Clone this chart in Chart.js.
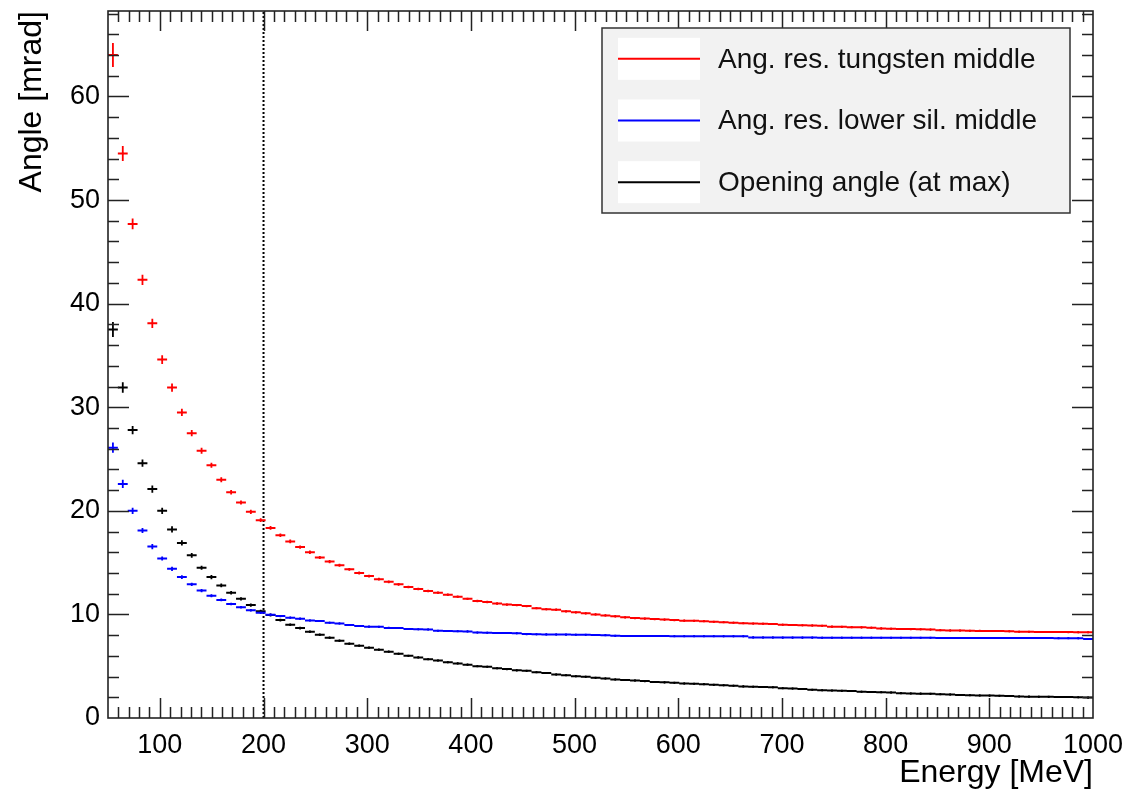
<!DOCTYPE html>
<html>
<head>
<meta charset="utf-8">
<script src="https://cdn.jsdelivr.net/npm/chart.js@4.4.1/dist/chart.umd.min.js"></script>
<style>
  html, body { margin: 0; padding: 0; background: #fff; }
  #wrap { width: 1135px; height: 792px; }
</style>
</head>
<body>
<div id="wrap"><canvas id="angleChart" width="1135" height="792"></canvas></div>
<script>
// histogram binning: 100 bins between 50 and 1000 MeV
const energyMin = 50;
const energyMax = 1000;
const binCount = 100;

const xTickValues = [100, 200, 300, 400, 500, 600, 700, 800, 900, 1000];
const yTickValues = [0, 10, 20, 30, 40, 50, 60];
const yMax = 68.25;
const cutEnergy = 200;

const seriesLabels = ['Ang. res. tungsten middle', 'Ang. res. lower sil. middle', 'Opening angle (at max)'];
const seriesColors = ['#ff0000', '#0000ff', '#000000'];

// values per bin [mrad]
const tungstenRes = [
    64.0, 54.5, 47.7, 42.3, 38.1, 34.6, 31.9, 29.5, 27.5, 25.8,
    24.4, 23.0, 21.8, 20.8, 19.9, 19.1, 18.35, 17.65, 17.05, 16.5,
    16.0, 15.5, 15.1, 14.75, 14.35, 14.0, 13.7, 13.4, 13.15, 12.9,
    12.65, 12.45, 12.25, 12.1, 11.9, 11.7, 11.5, 11.3, 11.2, 11.05,
    10.95, 10.9, 10.8, 10.6, 10.5, 10.45, 10.3, 10.2, 10.1, 10.0,
    9.9, 9.82, 9.72, 9.65, 9.6, 9.55, 9.5, 9.45, 9.4, 9.38,
    9.35, 9.28, 9.25, 9.2, 9.15, 9.12, 9.1, 9.08, 9.0, 8.97,
    8.95, 8.93, 8.9, 8.82, 8.8, 8.77, 8.75, 8.72, 8.65, 8.62,
    8.6, 8.58, 8.56, 8.54, 8.48, 8.45, 8.44, 8.42, 8.41, 8.4,
    8.39, 8.37, 8.33, 8.32, 8.31, 8.3, 8.3, 8.29, 8.28, 8.27
];
const tungstenErr = [
    1.15, 0.72, 0.53, 0.5, 0.45, 0.42, 0.4, 0.35, 0.3, 0.3,
    0.25, 0.25, 0.22, 0.2, 0.2, 0.18, 0.18, 0.17, 0.17, 0.16,
    0.16, 0.15, 0.15, 0.15, 0.14, 0.14, 0.14, 0.13, 0.13, 0.13,
    0.12, 0.12, 0.12, 0.12, 0.12, 0.12, 0.12, 0.12, 0.12, 0.12,
    0.11, 0.11, 0.11, 0.11, 0.11, 0.11, 0.11, 0.11, 0.11, 0.11,
    0.11, 0.11, 0.11, 0.11, 0.11, 0.11, 0.11, 0.11, 0.11, 0.11,
    0.1, 0.1, 0.1, 0.1, 0.1, 0.1, 0.1, 0.1, 0.1, 0.1,
    0.1, 0.1, 0.1, 0.1, 0.1, 0.1, 0.1, 0.1, 0.1, 0.1,
    0.1, 0.1, 0.1, 0.1, 0.1, 0.1, 0.1, 0.1, 0.1, 0.1,
    0.1, 0.1, 0.1, 0.1, 0.1, 0.1, 0.1, 0.1, 0.1, 0.1
];
const lowerSilRes = [
    26.1, 22.6, 20.0, 18.1, 16.55, 15.4, 14.4, 13.6, 12.9, 12.3,
    11.8, 11.4, 11.0, 10.7, 10.4, 10.15, 9.97, 9.84, 9.68, 9.58,
    9.42, 9.36, 9.2, 9.13, 8.98, 8.88, 8.82, 8.8, 8.7, 8.68,
    8.6, 8.56, 8.55, 8.42, 8.4, 8.38, 8.36, 8.25, 8.23, 8.21,
    8.2, 8.18, 8.1, 8.08, 8.07, 8.06, 8.05, 8.04, 8.03, 8.02,
    8.0, 7.93, 7.92, 7.92, 7.91, 7.91, 7.91, 7.9, 7.9, 7.9,
    7.9, 7.9, 7.89, 7.89, 7.89, 7.78, 7.77, 7.77, 7.76, 7.76,
    7.76, 7.76, 7.75, 7.75, 7.75, 7.75, 7.75, 7.75, 7.74, 7.74,
    7.74, 7.74, 7.74, 7.74, 7.73, 7.73, 7.73, 7.73, 7.73, 7.73,
    7.72, 7.72, 7.72, 7.72, 7.72, 7.72, 7.71, 7.71, 7.7, 7.62
];
const lowerSilErr = [
    0.5, 0.4, 0.3, 0.25, 0.25, 0.2, 0.2, 0.18, 0.16, 0.15,
    0.14, 0.13, 0.12, 0.12, 0.12, 0.11, 0.11, 0.11, 0.11, 0.11,
    0.1, 0.1, 0.1, 0.1, 0.1, 0.1, 0.1, 0.1, 0.1, 0.1,
    0.1, 0.1, 0.1, 0.1, 0.1, 0.1, 0.1, 0.1, 0.1, 0.1,
    0.1, 0.1, 0.1, 0.1, 0.1, 0.1, 0.1, 0.1, 0.1, 0.1,
    0.1, 0.1, 0.1, 0.1, 0.1, 0.1, 0.1, 0.1, 0.1, 0.1,
    0.1, 0.1, 0.1, 0.1, 0.1, 0.1, 0.1, 0.1, 0.1, 0.1,
    0.1, 0.1, 0.1, 0.1, 0.1, 0.1, 0.1, 0.1, 0.1, 0.1,
    0.1, 0.1, 0.1, 0.1, 0.1, 0.1, 0.1, 0.1, 0.1, 0.1,
    0.1, 0.1, 0.1, 0.1, 0.1, 0.1, 0.1, 0.1, 0.1, 0.1
];
const openingAngle = [
    37.5, 31.9, 27.8, 24.6, 22.1, 20.0, 18.2, 16.9, 15.7, 14.5,
    13.6, 12.8, 12.1, 11.5, 10.9, 10.3, 9.95, 9.45, 9.0, 8.68,
    8.33, 8.04, 7.75, 7.46, 7.17, 6.98, 6.79, 6.59, 6.4, 6.2,
    6.0, 5.85, 5.68, 5.55, 5.38, 5.27, 5.15, 5.0, 4.95, 4.8,
    4.72, 4.6, 4.55, 4.42, 4.35, 4.2, 4.13, 4.03, 3.98, 3.88,
    3.82, 3.72, 3.66, 3.62, 3.56, 3.48, 3.44, 3.4, 3.33, 3.3,
    3.27, 3.2, 3.16, 3.12, 3.05, 3.02, 2.99, 2.96, 2.88, 2.84,
    2.8, 2.72, 2.68, 2.65, 2.62, 2.6, 2.54, 2.51, 2.49, 2.46,
    2.4, 2.37, 2.35, 2.33, 2.3, 2.27, 2.22, 2.2, 2.18, 2.16,
    2.14, 2.12, 2.08, 2.06, 2.05, 2.04, 2.03, 2.02, 2.0, 1.97
];
const openingErr = [
    0.72, 0.5, 0.4, 0.35, 0.35, 0.3, 0.3, 0.25, 0.22, 0.2,
    0.2, 0.18, 0.17, 0.16, 0.15, 0.15, 0.14, 0.14, 0.13, 0.13,
    0.12, 0.12, 0.12, 0.12, 0.12, 0.11, 0.11, 0.11, 0.11, 0.11,
    0.1, 0.1, 0.1, 0.1, 0.1, 0.1, 0.1, 0.1, 0.1, 0.1,
    0.1, 0.1, 0.1, 0.1, 0.1, 0.1, 0.1, 0.1, 0.1, 0.1,
    0.1, 0.1, 0.1, 0.1, 0.1, 0.1, 0.1, 0.1, 0.1, 0.1,
    0.1, 0.1, 0.1, 0.1, 0.1, 0.1, 0.1, 0.1, 0.1, 0.1,
    0.1, 0.1, 0.1, 0.1, 0.1, 0.1, 0.1, 0.1, 0.1, 0.1,
    0.1, 0.1, 0.1, 0.1, 0.1, 0.1, 0.1, 0.1, 0.1, 0.1,
    0.1, 0.1, 0.1, 0.1, 0.1, 0.1, 0.1, 0.1, 0.1, 0.1
];

const seriesValues = [tungstenRes, lowerSilRes, openingAngle];
const seriesErrors = [tungstenErr, lowerSilErr, openingErr];

const binWidth = (energyMax - energyMin) / binCount;
const binEdges = [];
for (let i = 0; i <= binCount; i++) binEdges.push(energyMin + i * binWidth);

const FONT = "'Liberation Sans', Arial, Helvetica, sans-serif";

// histogram drawn like ROOT "E": horizontal bin bar + vertical error bar + dot marker
function histDatasets(values, errors, color, label) {
    const bars = [], errs = [], marks = [];
    values.forEach((v, i) => {
        const lo = binEdges[i], hi = binEdges[i + 1], c = (lo + hi) / 2;
        bars.push({x: lo, y: v}, {x: hi, y: v}, {x: hi, y: null});
        errs.push({x: c, y: v - errors[i]}, {x: c, y: v + errors[i]}, {x: c, y: null});
        marks.push({x: c, y: v});
    });
    return [
        {label, data: bars, showLine: true, spanGaps: false, borderColor: color, borderWidth: 2, pointRadius: 0},
        {label: label + ' err', data: errs, showLine: true, spanGaps: false, borderColor: color, borderWidth: 1.8, pointRadius: 0},
        {label: label + ' marker', data: marks, showLine: false, pointRadius: 0.9, pointBackgroundColor: '#000', pointBorderWidth: 0}
    ];
}

const datasets = [];
seriesValues.forEach((vals, s) => {
    datasets.push(...histDatasets(vals, seriesErrors[s], seriesColors[s], seriesLabels[s]));
});
datasets.push({
    label: 'cut',
    data: [{x: cutEnergy, y: 0}, {x: cutEnergy, y: yMax}],
    showLine: true, borderColor: '#000', borderWidth: 2, borderDash: [2, 2], pointRadius: 0
});

// frame with ROOT-style inward ticks on all four sides
const frameTicks = {
    id: 'frameTicks',
    afterDatasetsDraw(chart) {
        const {ctx, chartArea: a, scales: {x, y}} = chart;
        ctx.save();
        ctx.strokeStyle = '#222';
        ctx.lineWidth = 1.6;
        ctx.strokeRect(a.left, a.top, a.right - a.left, a.bottom - a.top);
        ctx.lineWidth = 1.5;
        ctx.beginPath();
        for (let v = 60; v < energyMax; v += 10) {
            const len = v % 100 === 0 ? 20 : 11;
            const px = Math.round(x.getPixelForValue(v)) + 0.5;
            ctx.moveTo(px, a.bottom); ctx.lineTo(px, a.bottom - len);
            ctx.moveTo(px, a.top); ctx.lineTo(px, a.top + len);
        }
        for (let v = 2; v < yMax; v += 2) {
            const len = v % 10 === 0 ? 21 : 11;
            const py = Math.round(y.getPixelForValue(v)) + 0.5;
            ctx.moveTo(a.left, py); ctx.lineTo(a.left + len, py);
            ctx.moveTo(a.right, py); ctx.lineTo(a.right - len, py);
        }
        ctx.stroke();
        ctx.restore();
    }
};

// ROOT-style legend box
const rootLegend = {
    id: 'rootLegend',
    afterDraw(chart) {
        const ctx = chart.ctx;
        const box = {left: 602, top: 28, right: 1070, bottom: 213};
        ctx.save();
        ctx.fillStyle = '#f2f2f2';
        ctx.fillRect(box.left, box.top, box.right - box.left, box.bottom - box.top);
        ctx.strokeStyle = '#333';
        ctx.lineWidth = 1.5;
        ctx.strokeRect(box.left, box.top, box.right - box.left, box.bottom - box.top);
        const rowH = (box.bottom - box.top) / seriesLabels.length;
        seriesLabels.forEach((label, s) => {
            const cy = box.top + rowH * (s + 0.5);
            ctx.fillStyle = '#fff';
            ctx.fillRect(618, cy - 21, 82, 42);
            ctx.strokeStyle = seriesColors[s];
            ctx.lineWidth = 2;
            ctx.beginPath();
            ctx.moveTo(618, cy); ctx.lineTo(700, cy);
            ctx.stroke();
            ctx.fillStyle = '#111';
            ctx.font = '28px ' + FONT;
            ctx.textBaseline = 'middle';
            ctx.fillText(label, 718, cy + 1);
        });
        ctx.restore();
    }
};

const chart = new Chart(document.getElementById('angleChart'), {
    type: 'scatter',
    data: {datasets},
    options: {
        responsive: false,
        animation: false,
        devicePixelRatio: 1,
        events: [],
        layout: {padding: {top: 11, right: 42, left: 0, bottom: 0}},
        plugins: {legend: {display: false}, tooltip: {enabled: false}},
        scales: {
            x: {
                type: 'linear',
                min: energyMin,
                max: energyMax,
                afterBuildTicks: s => { s.ticks = xTickValues.map(v => ({value: v})); },
                afterFit: s => { s.height = 74; s.paddingLeft = 0; s.paddingRight = 0; },
                grid: {display: false, drawTicks: false},
                border: {display: false},
                ticks: {color: '#000', font: {family: FONT, size: 27}, padding: 11, maxRotation: 0, autoSkip: false,
                        callback: v => String(v)},
                title: {display: true, text: 'Energy [MeV]', align: 'end', color: '#000',
                        font: {family: FONT, size: 32}, padding: {top: 0, bottom: 0}}
            },
            y: {
                type: 'linear',
                min: 0,
                max: yMax,
                afterBuildTicks: s => { s.ticks = yTickValues.map(v => ({value: v})); },
                afterFit: s => { s.width = 108; s.paddingTop = 0; s.paddingBottom = 0; },
                grid: {display: false, drawTicks: false},
                border: {display: false},
                ticks: {color: '#000', font: {family: FONT, size: 27}, padding: 8, autoSkip: false,
                        callback: v => String(v)},
                title: {display: true, text: 'Angle [mrad]', align: 'end', color: '#000',
                        font: {family: FONT, size: 32}, padding: {top: 13, bottom: 0}}
            }
        }
    },
    plugins: [frameTicks, rootLegend]
});
</script>
</body>
</html>
